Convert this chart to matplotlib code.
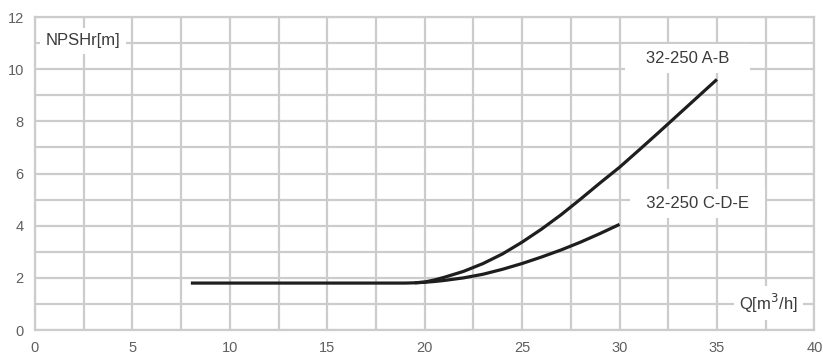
import matplotlib.pyplot as plt
import numpy as np

# NPSHr curves, flow in m3/h, NPSHr in m
q_ab = [8, 12, 16, 18, 19, 19.5, 20, 20.5, 21, 22, 23, 24, 25, 26, 27, 28, 29, 30, 31, 32, 33, 34, 35]
npsh_ab = [1.8, 1.8, 1.8, 1.8, 1.8, 1.81, 1.84, 1.92, 2.02, 2.25, 2.55, 2.92, 3.37, 3.87, 4.42,
           5.02, 5.64, 6.24, 6.9, 7.57, 8.25, 8.93, 9.61]
q_cde = [19.5, 20, 20.5, 21, 22, 23, 24, 25, 26, 27, 28, 29, 30]
npsh_cde = [1.81, 1.83, 1.86, 1.9, 2.0, 2.14, 2.33, 2.55, 2.8, 3.07, 3.37, 3.7, 4.05]

x_ticks = [0, 5, 10, 15, 20, 25, 30, 35, 40]
y_ticks = [0, 2, 4, 6, 8, 10, 12]

plt.rcParams["font.family"] = "Liberation Sans"
grid_c = '#cccccc'
txt_c = '#606060'
lab_c = '#3a3a3a'

fig = plt.figure(figsize=(8.23, 3.56), dpi=100)
ax = fig.add_axes([0.0425, 0.073, 0.947, 0.879])

ax.plot(q_ab, npsh_ab, color='#1e1e1e', lw=2.3, solid_capstyle='butt', zorder=3)
ax.plot(q_cde, npsh_cde, color='#1e1e1e', lw=2.3, solid_capstyle='butt', zorder=3)

ax.set_xlim(0, 40)
ax.set_ylim(0, 12)
ax.set_xticks(x_ticks)
ax.set_yticks(y_ticks)
ax.set_xticks(np.arange(0, 40.1, 2.5), minor=True)
ax.set_yticks(np.arange(0, 12.1, 1), minor=True)
ax.grid(which='both', color=grid_c, lw=1.6)
ax.set_axisbelow(True)
ax.tick_params(which='both', length=0, labelsize=10.5, labelcolor=txt_c)
ax.tick_params(axis='x', pad=8)
ax.tick_params(axis='y', pad=8)
for s in ax.spines.values():
    s.set_color(grid_c)
    s.set_linewidth(1.6)

box = dict(facecolor='white', edgecolor='none', pad=4)
ax.text(0.55, 11.1, 'NPSHr[m]', fontsize=12, color=lab_c, va='center', ha='left',
        bbox=box, zorder=4)
ax.text(33.5, 10.42, '   32-250 A-B   ', fontsize=12, color=lab_c, va='center', ha='center',
        bbox=dict(facecolor='white', edgecolor='none', pad=5), zorder=4)
ax.text(34.0, 4.85, '  32-250 C-D-E  ', fontsize=12, color=lab_c, va='center', ha='center',
        bbox=dict(facecolor='white', edgecolor='none', pad=5), zorder=4)
ax.text(37.65, 1.02, 'Q[m$^3$/h]', fontsize=12, color=lab_c, va='center', ha='center',
        bbox=box, zorder=4)

fig.savefig('out.png', dpi=100, facecolor='white')
